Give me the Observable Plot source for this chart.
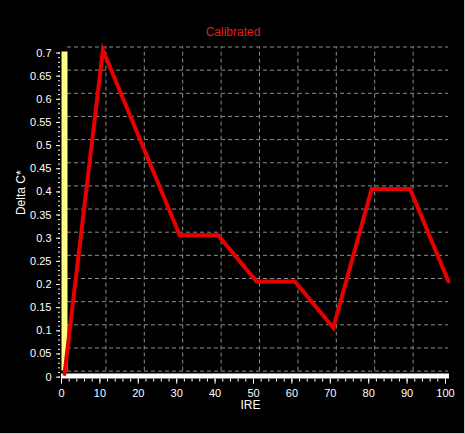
<!DOCTYPE html>
<html>
<head>
<meta charset="utf-8">
<script src="https://cdn.jsdelivr.net/npm/d3@7"></script>
<script src="https://cdn.jsdelivr.net/npm/@observablehq/plot@0.6"></script>
<style>
  html, body { margin: 0; padding: 0; background: #000; }
  #wrap { width: 464px; height: 433px; border-right: 1px solid #c8c8c8; border-bottom: 1px solid #c8c8c8; overflow: hidden; }
  svg { display: block; }
</style>
</head>
<body>
<div id="wrap"></div>
<script>
// Data
const ire = [0, 10, 20, 30, 40, 50, 60, 70, 80, 90, 100];
const deltaC = [0, 0.7, 0.5, 0.3, 0.3, 0.2, 0.2, 0.1, 0.4, 0.4, 0.2];
const xMajorTicks = [0, 10, 20, 30, 40, 50, 60, 70, 80, 90, 100];
const xMinorTicks = d3.range(0, 101, 2);
const xGridTicks = [10, 20, 30, 40, 50, 60, 70, 80, 90];
const yMajorTicks = [0, 0.05, 0.1, 0.15, 0.2, 0.25, 0.3, 0.35, 0.4, 0.45, 0.5, 0.55, 0.6, 0.65, 0.7];
const yMinorTicks = d3.range(0, 71, 1).map(d => d / 100);
const title = "Calibrated";
const xLabel = "IRE";
const yLabel = "Delta C*";

const points = ire.map((x, i) => ({x, y: deltaC[i]}));
const depth = 6;
const grid = {stroke: "#8c8c8c", strokeDasharray: "4,3", strokeWidth: 1};
const fmtY = d => d === 0 ? "0" : String(+d.toFixed(2));

const chart = Plot.plot({
  width: 464,
  height: 433,
  marginLeft: 61,
  marginRight: 19,
  marginTop: 52.5,
  marginBottom: 56.4,
  style: {background: "#000", color: "#fff", fontFamily: "'Liberation Sans', Arial, sans-serif", fontSize: "11px"},
  x: {domain: [0, 100], axis: null},
  y: {domain: [0, 0.7], axis: null},
  marks: [
    // back-wall grid
    Plot.ruleY(yMajorTicks, {y: d => d, x1: 0, x2: 100, dx: depth, dy: -depth, insetRight: 3, ...grid}),
    Plot.ruleX(xGridTicks, {x: d => d, y1: 0, y2: 0.7, dx: depth, dy: -depth, ...grid}),
    // floor
    Plot.ruleY([0], {x1: 0, x2: 100, dy: -1, insetRight: -4, stroke: "#ffffff", strokeWidth: 5}),
    // left wall
    Plot.ruleX([0], {y1: 0, y2: 0.7, dx: 3, dy: -3, insetTop: -3, insetBottom: -2, stroke: "#ffff88", strokeWidth: 6}),
    // data line
    Plot.line(points, {x: "x", y: "y", dx: 3, dy: -3, stroke: "#e80000", strokeWidth: 4, strokeLinejoin: "miter", strokeMiterlimit: 4}),
    // axes
    Plot.axisX(xMinorTicks, {anchor: "bottom", label: null, tickSize: 3, dy: 2, text: null, stroke: "#fff"}),
    Plot.axisX(xMajorTicks, {anchor: "bottom", label: null, tickSize: 5, dy: 2, tickPadding: 5, stroke: "#fff", fill: "#fff", fontSize: 11, tickFormat: d => String(d)}),
    Plot.axisY(yMinorTicks, {anchor: "left", label: null, tickSize: 2, dx: -1, text: null, stroke: "#fff"}),
    Plot.axisY(yMajorTicks, {anchor: "left", label: null, tickSize: 4, dx: -1, tickPadding: 5, stroke: "#fff", fill: "#fff", fontSize: 11, tickFormat: fmtY}),
    // labels
    Plot.text([title], {frameAnchor: "top", dx: -20.5, dy: -25.5, fill: "#e81818", fontSize: 12}),
    Plot.text([xLabel], {frameAnchor: "bottom", dx: -3, dy: 32, fill: "#fff", fontSize: 12}),
    Plot.text([yLabel], {frameAnchor: "left", dx: -40, rotate: -90, fill: "#fff", fontSize: 12})
  ]
});
document.getElementById("wrap").appendChild(chart);
</script>
</body>
</html>
